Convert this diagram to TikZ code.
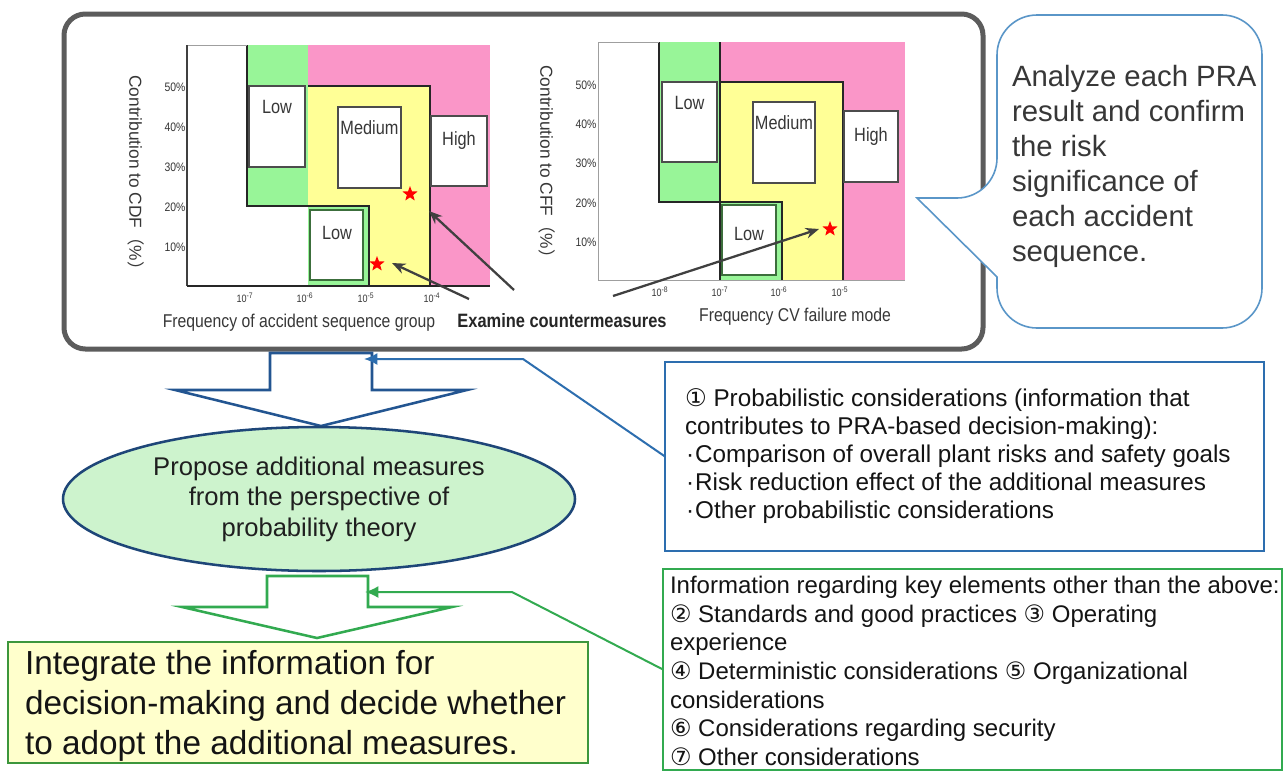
\documentclass[tikz,border=0pt]{standalone}
\usepackage{fontspec}
\setmainfont{Liberation Sans}
\newfontfamily\narrowf{Liberation Sans}[FakeStretch=0.85]
\newfontfamily\cjk{Noto Sans CJK JP}
\newfontfamily\djv{DejaVu Sans}
\usetikzlibrary{shapes.geometric,arrows.meta}
\newcommand\fsz[2]{\fontsize{#1}{#2}\selectfont}
\newcommand\bul{\makebox[0.42em][c]{·}}
\newcommand\cn[1]{{\djv #1}}
\def\pxu{0.75pt}
\definecolor{chgreen}{RGB}{152,245,152}
\definecolor{chpink}{RGB}{250,150,200}
\definecolor{chyellow}{RGB}{255,255,150}
\definecolor{panelgray}{RGB}{92,92,92}
\definecolor{txtgray}{RGB}{55,55,55}
\definecolor{arrgray}{RGB}{64,64,64}
\definecolor{bluec}{RGB}{45,110,175}
\definecolor{bluearr}{RGB}{35,85,145}
\definecolor{ellborder}{RGB}{30,70,120}
\definecolor{ellfill}{RGB}{205,243,205}
\definecolor{greenc}{RGB}{50,170,80}
\definecolor{yelfill}{RGB}{255,255,204}
\definecolor{yelborder}{RGB}{60,150,60}
\definecolor{callc}{RGB}{90,150,200}
\definecolor{lowborder}{RGB}{60,110,60}
\tikzset{
  every node/.style={inner sep=0pt, outer sep=0pt},
  chline/.style={line width=1.1pt, black!85},
  frameline/.style={line width=0.6pt, gray!75},
  axisline/.style={line width=1.4pt, black!85},
  lvlbox/.style={draw=black!70, line width=0.8pt, fill=white},
  lvllow/.style={draw=lowborder, line width=0.9pt, fill=white},
  lvltxt/.style={font=\narrowf\fsz{14.4}{16}, text=txtgray},
  ytick/.style={font=\narrowf\fsz{9.2}{10}, text=txtgray},
  xtick/.style={font=\narrowf\fsz{8}{9}, text=txtgray},
  axtitle/.style={font=\narrowf\fsz{13.9}{15}, text=txtgray},
  ytitle/.style={font=\fsz{13}{15}, text=txtgray},
  starmark/.style={star, star points=5, star point ratio=2.4, fill=red, draw=none, minimum size=16*\pxu},
  ctarrow/.style={draw=arrgray, line width=1.7pt, -{Stealth[length=10pt,width=8pt]}},
  blockarrow/.style={fill=white, line width=1.9pt, line join=miter},
  bconn/.style={draw=bluec, line width=1.5pt, -{Latex[length=10pt,width=9pt]}},
  gconn/.style={draw=greenc, line width=1.5pt, -{Latex[length=10pt,width=9pt]}},
}
\begin{document}
\begin{tikzpicture}[x=0.75pt,y=-0.75pt]
\useasboundingbox (0,0) rectangle (1284,771);
\fill[white] (0,0) rectangle (1284,771);

% ---------- gray panel ----------
\node[draw=panelgray, line width=3.75pt, rounded corners=16pt,
      minimum width=919*\pxu, minimum height=335*\pxu] (panel) at (523.5,181.5) {};

% ---------- left chart ----------
\fill[chgreen] (247,45) rectangle (308,206);
\fill[chpink] (308,45) rectangle (490,286);
\fill[chyellow] (308,86) rectangle (430,286);
\fill[chgreen] (308,206) rectangle (369,286);
\draw[chline] (247,45) -- (247,206) -- (369,206) -- (369,286);
\draw[chline] (308,86) -- (430,86) -- (430,286);
\draw[frameline] (187,45) -- (247,45);
\draw[line width=0.9pt, black!75] (187,45) -- (187,286);
\draw[axisline] (187,286) -- (490,286);
\draw[lvlbox] (249,86) rectangle (305,167);
\draw[lvlbox] (338,107) rectangle (401,188);
\draw[lvlbox] (431,116) rectangle (487,186);
\draw[lvllow] (310,210) rectangle (363,280);
\node[lvltxt] (l1low) at (277,107) {Low};
\node[lvltxt] (l1med) at (369.5,128) {Medium};
\node[lvltxt] (l1high) at (459,141) {High};
\node[lvltxt] (l1low2) at (337,233) {Low};
\node[ytick] (l1y50) at (175,87) {50\%};
\node[ytick] (l1y40) at (175,127) {40\%};
\node[ytick] (l1y30) at (175,167) {30\%};
\node[ytick] (l1y20) at (175,207) {20\%};
\node[ytick] (l1y10) at (175,247) {10\%};
\node[xtick] (l1x7) at (245,298) {10\textsuperscript{-7}};
\node[xtick] (l1x6) at (305,298) {10\textsuperscript{-6}};
\node[xtick] (l1x5) at (366,298) {10\textsuperscript{-5}};
\node[xtick] (l1x4) at (432,298) {10\textsuperscript{-4}};
\node[axtitle] (l1xt) at (299,323) {Frequency of accident sequence group};
\node[ytitle, rotate=-90] (l1yt) at (136,177) {Contribution to CDF{\cjk （}\%{\cjk ）}};
\node[starmark] (s1) at (410,194) {};
\node[starmark] (s2) at (377,264) {};

% ---------- right chart ----------
\fill[chgreen] (659,42) rectangle (720,202);
\fill[chpink] (720,42) rectangle (905,280);
\fill[chyellow] (720,82) rectangle (843,280);
\fill[chgreen] (720,202) rectangle (782,280);
\draw[chline] (659,42) -- (659,202) -- (782,202) -- (782,280);
\draw[chline] (720,42) -- (720,280);
\draw[chline] (720,82) -- (843,82) -- (843,280);
\draw[frameline] (598,42) -- (659,42);
\draw[frameline] (598,42) -- (598,280) -- (905,280);
\draw[lvlbox] (662,82) rectangle (717,162);
\draw[lvlbox] (753,102) rectangle (815,183);
\draw[lvlbox] (844,111) rectangle (898,182);
\draw[lvllow] (722,205) rectangle (776,275);
\node[lvltxt] (r1low) at (689.5,103) {Low};
\node[lvltxt] (r1med) at (784,123) {Medium};
\node[lvltxt] (r1high) at (871,137) {High};
\node[lvltxt] (r1low2) at (749,234) {Low};
\node[ytick] (r1y50) at (586,85) {50\%};
\node[ytick] (r1y40) at (586,124) {40\%};
\node[ytick] (r1y30) at (586,163) {30\%};
\node[ytick] (r1y20) at (586,203) {20\%};
\node[ytick] (r1y10) at (586,242) {10\%};
\node[xtick] (r1x8) at (660,292) {10\textsuperscript{-8}};
\node[xtick] (r1x7) at (720,292) {10\textsuperscript{-7}};
\node[xtick] (r1x6) at (779,292) {10\textsuperscript{-6}};
\node[xtick] (r1x5) at (840,292) {10\textsuperscript{-5}};
\node[axtitle] (r1xt) at (795,317) {Frequency CV failure mode};
\node[ytitle, rotate=-90] (r1yt) at (547,166) {Contribution to CFF{\cjk （}\%{\cjk ）}};
\node[starmark] (s3) at (830,229) {};

% ---------- examine countermeasures ----------
\node[font=\narrowf\bfseries\fsz{14.5}{16}, text=black!85] (exam) at (562,321) {Examine countermeasures};
\coordinate (t1) at (514,290);
\coordinate (h1) at (429,211);
\coordinate (t2) at (469,299);
\coordinate (h2) at (392,263);
\coordinate (t3) at (613,296);
\coordinate (h3) at (819,229);
\draw[ctarrow] (t1) -- (h1);
\draw[ctarrow] (t2) -- (h2);
\draw[ctarrow] (t3) -- (h3);

% ---------- callout ----------
\draw[draw=callc, line width=1.2pt, fill=white]
  (1262,170) [rounded corners=30pt] -- (1262,15) -- (997,15) -- (997,198)
  [sharp corners] -- (917,198) -- (997,277)
  [rounded corners=30pt] -- (997,328) -- (1262,328) -- cycle;
\node[font=\fsz{22}{26.25}, text=txtgray, align=left, anchor=west] (callt) at (1012,166)
  {Analyze each PRA\\result and confirm\\the risk\\significance of\\each accident\\sequence.};

% ---------- blue box ----------
\node[draw=bluec, line width=1.9pt, fill=white, minimum width=599*\pxu, minimum height=189*\pxu] (prob) at (964.5,456.5) {};
\node[font=\fsz{18.2}{21}, text=black!92, align=left, anchor=west] (probt) at (685,456)
  {\cn{①} Probabilistic considerations (information that\\
   contributes to PRA-based decision-making):\\
   \bul Comparison of overall plant risks and safety goals\\
   \bul Risk reduction effect of the additional measures\\
   \bul Other probabilistic considerations};

% ---------- green box ----------
\node[draw=greenc, line width=1.5pt, fill=white, minimum width=619*\pxu, minimum height=201*\pxu] (oth) at (972.5,669.5) {};
\node[font=\fsz{18}{21.45}, text=black!92, align=left, anchor=west] (otht) at (670,671)
  {Information regarding key elements other than the above:\\
   \cn{②} Standards and good practices \cn{③} Operating\\
   experience\\
   \cn{④} Deterministic considerations \cn{⑤} Organizational\\
   considerations\\
   \cn{⑥} Considerations regarding security\\
   \cn{⑦} Other considerations};

% ---------- blue block arrow ----------
\draw[blockarrow, draw=bluearr] (270,353) -- (372,353) -- (372,390) -- (467,390) -- (321,426) -- (175,390) -- (270,390) -- cycle;
\coordinate (bstem) at (364,359);

% ---------- ellipse ----------
\node[ellipse, draw=ellborder, line width=1.9pt, fill=ellfill, minimum width=512*\pxu, minimum height=144*\pxu,
      align=center, font=\fsz{19.2}{22.9}, text=black!88] (ell) at (319,499)
  {Propose additional measures\\from the perspective of\\probability theory};

% ---------- green block arrow ----------
\draw[blockarrow, draw=greenc] (267,576) -- (368,576) -- (368,607) -- (452,607) -- (317,638) -- (182,607) -- (267,607) -- cycle;
\coordinate (gstem) at (365,592);

% ---------- yellow box ----------
\node[draw=yelborder, line width=2.2pt, fill=yelfill, minimum width=580*\pxu, minimum height=121*\pxu] (integ) at (298,702.5) {};
\node[font=\fsz{25}{30}, text=black!92, align=left, anchor=west] (integt) at (25,706)
  {Integrate the information for\\decision-making and decide whether\\to adopt the additional measures.};

% ---------- connectors ----------
\coordinate (bend1) at (523,359);
\coordinate (bend2) at (512,592);
\draw[bconn] (prob.west) -- (bend1) -- (bstem);
\draw[gconn] (oth.west) -- (bend2) -- (gstem);
\end{tikzpicture}
\end{document}
